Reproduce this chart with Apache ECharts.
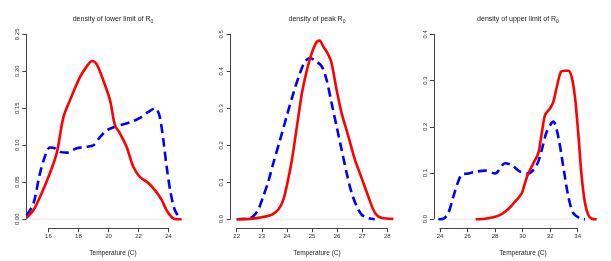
<!DOCTYPE html>
<html><head><meta charset="utf-8">
<script src="https://cdn.jsdelivr.net/npm/echarts@6/dist/echarts.min.js"></script>
<style>html,body{margin:0;padding:0;background:#fff}#c{width:611px;height:261px}</style>
</head><body><div id="c"></div>
<script>
// ---- data ----
const titles = ['density of lower limit of R{sub|0}', 'density of peak R{sub|0}', 'density of upper limit of R{sub|0}'];
const xLabel = 'Temperature (C)';
const xTicks1 = [16, 24, 2], xTicks2 = [22, 28, 1], xTicks3 = [24, 34, 2];
const yTicks1 = [0, 0.25, 0.05], yTicks2 = [0, 0.5, 0.1], yTicks3 = [0, 0.4, 0.1];

const lowerRed = [[14.55,0.002],[15.0,0.012],[15.44,0.030],[16.0,0.057],[16.55,0.089],[17.0,0.138],[17.44,0.161],[18.1,0.192],[18.6,0.208],[18.9,0.214],[19.2,0.210],[19.65,0.188],[20.1,0.161],[20.43,0.127],[20.76,0.116],[21.2,0.098],[21.65,0.071],[22.1,0.057],[22.65,0.049],[23.1,0.039],[23.54,0.026],[23.87,0.012],[24.2,0.003],[24.5,0.0],[24.87,0.0]];
const lowerBlue = [[14.55,0.005],[15.0,0.021],[15.44,0.062],[15.84,0.089],[16.1,0.097],[16.44,0.096],[16.77,0.091],[17.2,0.090],[17.88,0.096],[18.55,0.098],[19.0,0.100],[19.43,0.111],[19.88,0.120],[20.3,0.124],[20.76,0.127],[21.43,0.131],[22.1,0.137],[22.65,0.145],[23.1,0.150],[23.38,0.141],[23.65,0.107],[23.87,0.071],[24.14,0.035],[24.42,0.012],[24.76,0.001]];
const peakRed = [[22.0,0.0],[22.53,0.001],[23.06,0.006],[23.4,0.012],[23.66,0.026],[23.86,0.053],[24.02,0.098],[24.2,0.161],[24.4,0.251],[24.6,0.341],[24.8,0.404],[24.99,0.449],[25.19,0.480],[25.3,0.483],[25.45,0.467],[25.65,0.445],[25.78,0.422],[25.98,0.350],[26.18,0.287],[26.45,0.224],[26.71,0.161],[26.98,0.111],[27.24,0.062],[27.51,0.017],[27.78,0.003],[28.24,0.001]];
const peakBlue = [[22.0,0.0],[22.46,0.002],[22.66,0.008],[22.86,0.026],[23.06,0.062],[23.26,0.102],[23.46,0.152],[23.73,0.215],[23.99,0.278],[24.26,0.341],[24.52,0.395],[24.72,0.426],[24.92,0.436],[25.12,0.429],[25.39,0.413],[25.58,0.377],[25.78,0.314],[25.98,0.251],[26.18,0.188],[26.38,0.125],[26.58,0.071],[26.78,0.035],[26.98,0.012],[27.24,0.003],[27.5,0.0]];
const upperRed = [[26.59,0.0],[27.27,0.001],[27.87,0.004],[28.48,0.011],[28.96,0.022],[29.45,0.038],[29.93,0.056],[30.17,0.078],[30.41,0.099],[30.78,0.121],[31.14,0.143],[31.39,0.186],[31.63,0.225],[32.0,0.240],[32.23,0.254],[32.48,0.286],[32.79,0.319],[33.08,0.321],[33.32,0.321],[33.56,0.308],[33.8,0.265],[34.04,0.186],[34.29,0.092],[34.53,0.035],[34.77,0.009],[35.02,0.001],[35.38,0.0]];
const upperBlue = [[23.88,0.0],[24.24,0.001],[24.6,0.013],[24.97,0.049],[25.28,0.078],[25.57,0.096],[26.06,0.099],[26.67,0.103],[27.27,0.105],[28.0,0.099],[28.72,0.121],[29.2,0.117],[29.81,0.103],[30.41,0.099],[31.02,0.117],[31.39,0.150],[31.75,0.189],[32.23,0.211],[32.59,0.178],[32.95,0.114],[33.32,0.049],[33.68,0.013],[34.17,0.002],[34.53,0.0]];

// ---- layout (pixel positions of plot region and first/last x ticks) ----
const FONT = 'Liberation Sans, Arial, sans-serif';
const panels = [
  {title: titles[0], xt: xTicks1, yt: yTicks1, red: lowerRed, blue: lowerBlue, dec: 2,
   x0: 48.4, x1: 168.6, left: 26.3, right: 190, titleX: 108, labX: 108},
  {title: titles[1], xt: xTicks2, yt: yTicks2, red: peakRed, blue: peakBlue, dec: 1,
   x0: 236.7, x1: 387.3, left: 230.7, right: 393, titleX: 312, labX: 312},
  {title: titles[2], xt: xTicks3, yt: yTicks3, red: upperRed, blue: upperBlue, dec: 1,
   x0: 440, x1: 577.7, left: 434, right: 597, titleX: 513, labX: 518},
];
const W = 611, H = 261, TOP = 34.3, Y0 = 219.2;
const axisCol = '#444', txtCol = '#333';

const option = {animation: false, backgroundColor: '#fff', grid: [], xAxis: [], yAxis: [], series: [], title: []};
panels.forEach((p, i) => {
  const ppu = (p.x1 - p.x0) / (p.xt[1] - p.xt[0]);
  const xmin = p.xt[0] - (p.x0 - p.left) / ppu;
  const xmax = p.xt[1] + (p.right - p.x1) / ppu;
  const gi = 2 * i, gd = 2 * i + 1;
  // main plot grid
  option.grid.push({left: p.left, right: W - p.right, top: TOP, bottom: H - Y0});
  // decoration grid for the x axis (spans first..last tick)
  option.grid.push({left: p.x0, right: W - p.x1, top: TOP, bottom: H - Y0});
  option.xAxis.push({
    type: 'value', gridIndex: gi, min: xmin, max: xmax, show: false
  });
  option.xAxis.push({
    type: 'value', gridIndex: gd, min: p.xt[0], max: p.xt[1], interval: p.xt[2], offset: 9,
    axisLine: {onZero: false, lineStyle: {color: axisCol, width: 1}},
    axisTick: {length: 4, lineStyle: {color: axisCol}},
    axisLabel: {fontSize: 6, color: txtCol, margin: 5, fontFamily: FONT, showMinLabel: true, showMaxLabel: true},
    splitLine: {show: false}
  });
  option.yAxis.push({
    type: 'value', gridIndex: gi, min: p.yt[0], max: p.yt[1], interval: p.yt[2],
    axisLine: {show: true, onZero: false, lineStyle: {color: axisCol, width: 1}},
    axisTick: {show: true, length: 4, lineStyle: {color: axisCol}},
    axisLabel: {fontSize: 6, color: txtCol, rotate: 90, margin: 6, fontFamily: FONT,
      formatter: v => v.toFixed(p.dec), showMinLabel: true, showMaxLabel: true},
    splitLine: {show: false}
  });
  option.yAxis.push({type: 'value', gridIndex: gd, min: p.yt[0], max: p.yt[1], show: false});
  option.series.push({
    type: 'line', xAxisIndex: gi, yAxisIndex: gi, data: [[xmin, 0], [xmax, 0]], z: 1,
    symbol: 'none', silent: true, lineStyle: {color: '#e6e6e6', width: 1}
  });
  option.series.push({
    type: 'line', xAxisIndex: gi, yAxisIndex: gi, data: p.blue, clip: false, z: 2, smooth: 0.3,
    symbol: 'none', lineStyle: {color: '#0000ff', width: 2.6, type: [9, 5]}
  });
  option.series.push({
    type: 'line', xAxisIndex: gi, yAxisIndex: gi, data: p.red, clip: false, z: 3, smooth: 0.3,
    symbol: 'none', lineStyle: {color: '#ff0000', width: 2.6}
  });
  option.title.push({
    text: p.title, left: p.titleX, top: 9, textAlign: 'center',
    textStyle: {fontSize: 7, fontWeight: 'normal', color: '#222', fontFamily: FONT,
      rich: {sub: {fontSize: 5, color: '#222', fontFamily: FONT, padding: [5, 0, 0, 0]}}}
  });
  option.title.push({
    text: xLabel, left: p.labX, top: 245, textAlign: 'center',
    textStyle: {fontSize: 6.5, fontWeight: 'normal', color: '#222', fontFamily: FONT}
  });
});

const chart = echarts.init(document.getElementById('c'), null, {renderer: 'canvas'});
chart.setOption(option);
</script></body></html>
